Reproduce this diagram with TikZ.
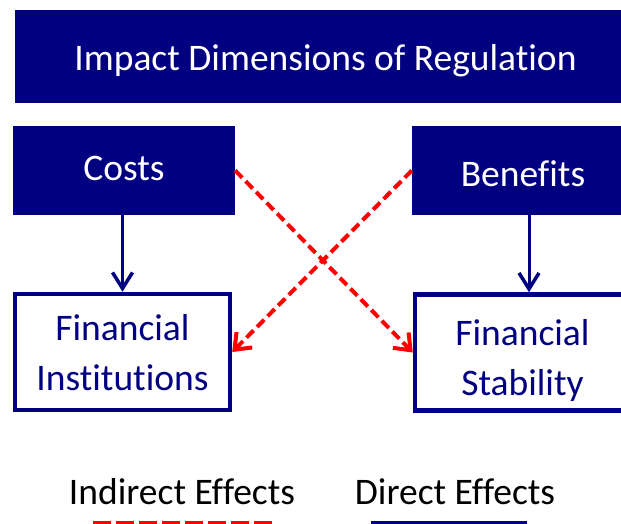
\documentclass[tikz,border=0pt]{standalone}
\usepackage{fontspec}
\setmainfont{Carlito}[Ligatures=CommonOff]
\usetikzlibrary{arrows.meta}
\definecolor{navy}{RGB}{0,0,128}
\definecolor{effred}{RGB}{255,0,0}
\newcommand{\shifttext}[2]{\raisebox{#1}[\height][\depth]{#2}}
\newcommand{\twolines}[2]{\begin{tabular}{@{}c@{}}#1\\#2\end{tabular}}
\begin{document}
\begin{tikzpicture}[x=1pt, y=-1pt,
    every node/.style={font=\fontsize{37.5}{50}\selectfont, align=center, inner sep=0pt},
    headbox/.style={fill=navy, text=white},
    targetbox/.style={draw=navy, line width=4.5pt, text=navy, fill=white},
    direct/.style={draw=navy, line width=3pt, -{Straight Barb[length=16pt, width=20pt, line width=3.5pt]}},
    indirect/.style={draw=effred, line width=4pt, dash pattern=on 10pt off 5pt, -{Straight Barb[length=14pt, width=22pt, line width=4pt]}}]
    \useasboundingbox (0,0) rectangle (621,524);
    \clip (0,0) rectangle (621,524);
    \fill[white] (0,0) rectangle (621,524);

    \node[headbox, minimum width=606pt, minimum height=93pt] (title) at (318,56.5) {\hspace*{15pt}\shifttext{-4pt}{Impact Dimensions of Regulation}};
    \node[headbox, minimum width=222pt, minimum height=89pt] (costs) at (124,170.5) {\shifttext{2pt}{Costs}};
    \node[headbox, minimum width=222pt, minimum height=89pt] (benefits) at (523,170.5) {\shifttext{-3pt}{Benefits}};
    \node[targetbox, minimum width=215pt, minimum height=116pt] (fi) at (122.5,352) {\shifttext{-3pt}{\twolines{Financial}{Institutions}}};
    \node[targetbox, minimum width=215pt, minimum height=116pt] (fs) at (522.5,352.5) {\shifttext{-8pt}{\twolines{Financial}{Stability}}};

    \draw[direct] (costs.south -| fi.north) -- (fi.north);
    \draw[direct] ([xshift=6pt]benefits.south) -- ([xshift=6pt]benefits.south |- fs.north);
    \draw[indirect] (costs.east) -- (fs.west);
    \draw[indirect] (benefits.west) -- (fi.east);

    \node (indlabel) at (182,492) {Indirect Effects};
    \node (dirlabel) at (455,492) {Direct Effects};
    \coordinate (ind1) at (93,526);
    \coordinate (ind2) at (273,526);
    \coordinate (dir1) at (371,526);
    \coordinate (dir2) at (527,526);
    \draw[effred, line width=10pt, dash pattern=on 18pt off 5pt] (ind1) -- (ind2);
    \draw[navy, line width=10pt] (dir1) -- (dir2);
\end{tikzpicture}
\end{document}
